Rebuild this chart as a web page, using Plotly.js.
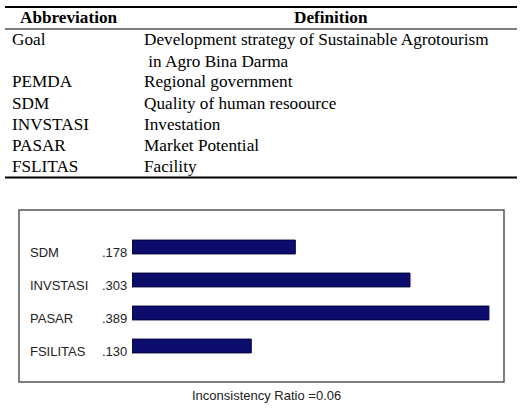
<!DOCTYPE html>
<html>
<head>
<meta charset="utf-8">
<script src="https://cdn.plot.ly/plotly-3.0.1.min.js"></script>
<style>html,body{margin:0;padding:0;background:#fff;}#chart{width:522px;height:408px;}</style>
</head>
<body>
<div id="chart"></div>
<script>
// Table data
const abbreviations = ["Goal", "", "PEMDA", "SDM", "INVSTASI", "PASAR", "FSLITAS"];
const definitions = ["Development strategy of Sustainable Agrotourism", " in Agro Bina Darma", "Regional government", "Quality of human resoource", "Investation", "Market Potential", "Facility"];
const tableHeaders = ["Abbreviation", "Definition"];

// Bar chart data
const criteria = ["SDM", "INVSTASI", "PASAR", "FSILITAS"];
const weights = [0.178, 0.303, 0.389, 0.130];
const weightLabels = [".178", ".303", ".389", ".130"];
const footnote = "Inconsistency Ratio =0.06";

const W = 522, H = 408;
const px = x => x / W;
const py = y => 1 - y / H;

const serif = "Liberation Serif, Times New Roman, serif";
const narrow = "Liberation Sans Narrow, Arial Narrow, Liberation Sans, Arial, sans-serif";
const tfs = 17.2;

const annotations = [];
const shapes = [];

// table lines
shapes.push({type:'line', xref:'paper', yref:'paper', x0:px(5), x1:px(517), y0:py(7), y1:py(7), line:{color:'#000', width:2}});
shapes.push({type:'line', xref:'paper', yref:'paper', x0:px(5), x1:px(517), y0:py(29), y1:py(29), line:{color:'#000', width:1}});
shapes.push({type:'line', xref:'paper', yref:'paper', x0:px(5), x1:px(517), y0:py(177.5), y1:py(177.5), line:{color:'#000', width:2}});

// headers
annotations.push({xref:'paper', yref:'paper', x:px(69), y:py(18), text:'<b>'+tableHeaders[0]+'</b>', showarrow:false, xanchor:'center', yanchor:'middle', font:{family:serif, size:tfs, color:'#000'}});
annotations.push({xref:'paper', yref:'paper', x:px(331), y:py(18), text:'<b>'+tableHeaders[1]+'</b>', showarrow:false, xanchor:'center', yanchor:'middle', font:{family:serif, size:tfs, color:'#000'}});

const rowY = [40, 61, 82, 103, 124, 145, 166];
abbreviations.forEach((a, i) => {
  if (a) annotations.push({xref:'paper', yref:'paper', x:px(10), y:py(rowY[i]), text:a, showarrow:false, xanchor:'left', yanchor:'middle', font:{family:serif, size:tfs, color:'#000'}});
  annotations.push({xref:'paper', yref:'paper', x:px(142), y:py(rowY[i]), text:definitions[i], showarrow:false, xanchor:'left', yanchor:'middle', font:{family:serif, size:tfs, color:'#000'}});
});

// chart box
shapes.push({type:'rect', xref:'paper', yref:'paper', x0:px(19), x1:px(504), y0:py(210), y1:py(382), line:{color:'#555', width:1.5}, fillcolor:'rgba(0,0,0,0)'});

// category names and value labels
criteria.forEach((c, i) => {
  annotations.push({xref:'paper', yref:'y', x:px(28), y:i, yshift:-5, text:c, showarrow:false, xanchor:'left', yanchor:'middle', font:{family:narrow, size:13, color:'#222'}});
  annotations.push({xref:'paper', yref:'y', x:px(129), y:i, yshift:-5, text:weightLabels[i], showarrow:false, xanchor:'right', yanchor:'middle', font:{family:narrow, size:13, color:'#222'}});
});

annotations.push({xref:'paper', yref:'paper', x:px(266), y:py(395), text:footnote, showarrow:false, xanchor:'center', yanchor:'middle', font:{family:narrow, size:13, color:'#222'}});

const trace = {
  type:'bar', orientation:'h',
  x: weights, y: criteria.map((c, i) => i),
  width: 0.42,
  marker:{color:'#0c0c6c', line:{color:'#05053a', width:1}},
  hoverinfo:'none'
};

const layout = {
  width:W, height:H,
  margin:{l:0, r:0, t:0, b:0},
  paper_bgcolor:'#fff', plot_bgcolor:'rgba(0,0,0,0)',
  showlegend:false,
  xaxis:{domain:[px(132), px(499)], range:[0, 0.4], showgrid:false, zeroline:false, showticklabels:false, showline:false, ticks:''},
  yaxis:{domain:[py(362.5), py(230.5)], range:[3.5, -0.5], showgrid:false, zeroline:false, showticklabels:false, showline:false, ticks:''},
  shapes, annotations
};

Plotly.newPlot('chart', [trace], layout, {staticPlot:true, displayModeBar:false});
</script>
</body>
</html>
